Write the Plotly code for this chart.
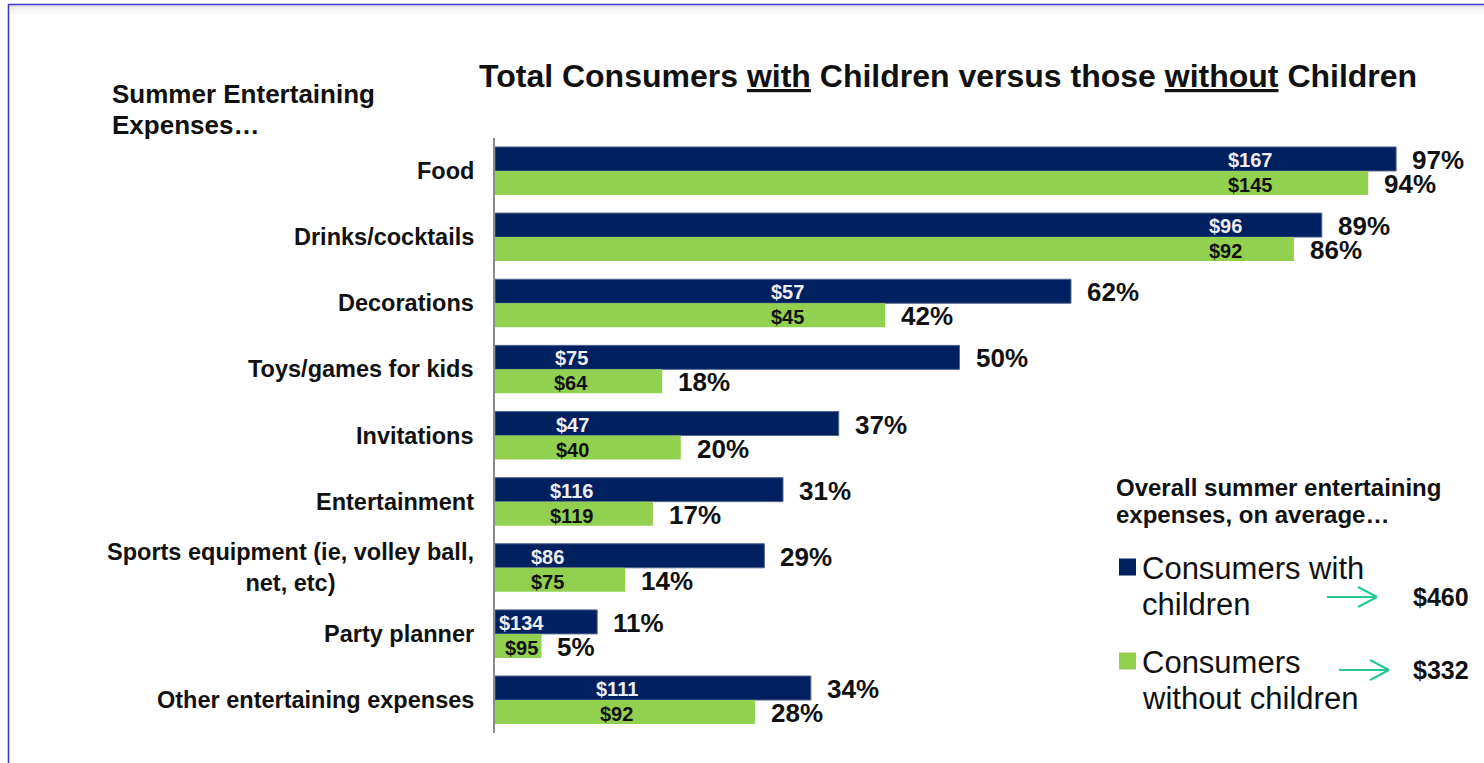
import plotly.graph_objects as go

# ---- data ----
categories = [
    "Food",
    "Drinks/cocktails",
    "Decorations",
    "Toys/games for kids",
    "Invitations",
    "Entertainment",
    "Sports equipment (ie, volley ball,<br>net, etc)",
    "Party planner",
    "Other entertaining expenses",
]
pct_with_children = [97, 89, 62, 50, 37, 31, 29, 11, 34]
pct_without_children = [94, 86, 42, 18, 20, 17, 14, 5, 28]
spend_with_children = [167, 96, 57, 75, 47, 116, 86, 134, 111]
spend_without_children = [145, 92, 45, 64, 40, 119, 75, 95, 92]

overall_labels = ["Consumers with<br>children", "Consumers<br>without children"]
overall_spend = [460, 332]

# where the dollar labels sit inside each pair of bars (x-axis units)
spend_label_x = [81.3, 78.6, 31.5, 8.2, 8.3, 8.2, 5.7, 2.9, 13.1]

# ---- styling ----
W, H = 1484, 763
NAVY = "#002060"
GREEN = "#92D050"
ARROW = "#22C993"
FRAME = "#3A3ACF"
FONT = "Liberation Sans, Arial, sans-serif"
INK = "#111111"


def px(x):
    return x / W


def py(y):
    return 1 - y / H


annotations = []


def left_block(text, x, y_first, spacing, size, bold=False):
    """Left-aligned multi-line text with a fixed pixel line spacing."""
    for i, line in enumerate(text.split("<br>")):
        annotations.append(dict(
            x=px(x), y=py(y_first + i * spacing), xref="paper", yref="paper",
            text=f"<b>{line}</b>" if bold else line, showarrow=False,
            xanchor="left", yanchor="middle",
            font=dict(family=FONT, size=size, color=INK),
        ))


fig = go.Figure()
fig.add_trace(go.Bar(
    y=categories, x=pct_with_children, orientation="h",
    marker=dict(color=NAVY, line=dict(color="#51668F", width=1)),
    name="Consumers with children", hoverinfo="skip",
))
fig.add_trace(go.Bar(
    y=categories, x=pct_without_children, orientation="h",
    marker=dict(color=GREEN, line=dict(width=0)),
    name="Consumers without children", hoverinfo="skip",
))

# category labels (centred lines, right edge near the axis)
for cat in categories:
    annotations.append(dict(
        x=px(476), xref="paper", y=cat, yref="y",
        text=f"<b>{cat}</b>", showarrow=False, xanchor="right",
        align="center", font=dict(family=FONT, size=23.5, color=INK),
    ))

# percentage labels beyond the bar ends
for cat, a, b in zip(categories, pct_with_children, pct_without_children):
    annotations.append(dict(
        x=a, y=cat, xref="x", yref="y", text=f"<b>{a}%</b>",
        showarrow=False, xanchor="left", xshift=14, yshift=11,
        font=dict(family=FONT, size=26, color=INK),
    ))
    annotations.append(dict(
        x=b, y=cat, xref="x", yref="y", text=f"<b>{b}%</b>",
        showarrow=False, xanchor="left", xshift=14, yshift=-13,
        font=dict(family=FONT, size=26, color=INK),
    ))

# average spend labels inside the bars
for cat, sx, a, b in zip(categories, spend_label_x, spend_with_children, spend_without_children):
    annotations.append(dict(
        x=sx, y=cat, xref="x", yref="y", text=f"<b>${a}</b>",
        showarrow=False, xanchor="center", yshift=11,
        font=dict(family=FONT, size=20, color="#EDEDF3"),
    ))
    annotations.append(dict(
        x=sx, y=cat, xref="x", yref="y", text=f"<b>${b}</b>",
        showarrow=False, xanchor="center", yshift=-14,
        font=dict(family=FONT, size=20, color=INK),
    ))

# headings
annotations.append(dict(
    x=px(948), y=py(76), xref="paper", yref="paper",
    text="<b>Total Consumers <u>with</u> Children versus those <u>without</u> Children</b>",
    showarrow=False, xanchor="center", yanchor="middle",
    font=dict(family=FONT, size=32, color=INK),
))
left_block("Summer Entertaining<br>Expenses…", 110, 94, 31, 26, bold=True)
left_block("Overall summer entertaining<br>expenses, on average…", 1114, 487, 27, 24, bold=True)

# key with overall averages
key_rows = [(568, 597, 1327, NAVY), (662, 670, 1339, GREEN)]
shapes = []
for (text_y, arrow_y, arrow_x0, color), label, total in zip(key_rows, overall_labels, overall_spend):
    shapes.append(dict(
        type="rect", xref="paper", yref="paper",
        x0=px(1119), x1=px(1136), y0=py(text_y + 7.5), y1=py(text_y - 9.5),
        fillcolor=color, line=dict(width=0),
    ))
    left_block(label, 1140, text_y, 36, 31)
    x1 = arrow_x0 + 50
    for (ax0, ay0), (ax1, ay1) in [((arrow_x0, arrow_y), (x1, arrow_y)),
                                   ((x1 - 19, arrow_y - 10), (x1, arrow_y)),
                                   ((x1 - 19, arrow_y + 10), (x1, arrow_y))]:
        shapes.append(dict(
            type="line", xref="paper", yref="paper",
            x0=px(ax0), y0=py(ay0), x1=px(ax1), y1=py(ay1),
            line=dict(color=ARROW, width=2),
        ))
    annotations.append(dict(
        x=px(1441), y=py(arrow_y), xref="paper", yref="paper",
        text=f"<b>${total}</b>", showarrow=False, xanchor="center", yanchor="middle",
        font=dict(family=FONT, size=25, color=INK),
    ))

# slide frame with a soft shadow under the top edge
for i, c in enumerate(["#E4E4E4", "#EDEDED", "#F3F3F3", "#F8F8F8"]):
    shapes.append(dict(
        type="line", xref="paper", yref="paper",
        x0=px(9), x1=1, y0=py(6.5 + 2 * i), y1=py(6.5 + 2 * i),
        line=dict(color=c, width=2), layer="below",
    ))
shapes.append(dict(type="line", xref="paper", yref="paper",
                   x0=px(8), x1=1, y0=py(4.5), y1=py(4.5),
                   line=dict(color=FRAME, width=1.6)))
shapes.append(dict(type="line", xref="paper", yref="paper",
                   x0=px(8.5), x1=px(8.5), y0=py(4), y1=0,
                   line=dict(color=FRAME, width=1.6)))

fig.update_layout(
    width=W, height=H,
    margin=dict(l=0, r=0, t=0, b=0),
    paper_bgcolor="white", plot_bgcolor="white",
    barmode="group", bargap=0.274, bargroupgap=0,
    showlegend=False,
    xaxis=dict(
        domain=[px(495), px(1424)], range=[0, 100],
        showgrid=False, zeroline=False, showticklabels=False, showline=False,
    ),
    yaxis=dict(
        domain=[py(733.1), py(137.9)], range=[8.5, -0.5],
        type="category", showgrid=False, zeroline=False,
        showticklabels=False, showline=True, linecolor="#8C8C8C", linewidth=2,
        ticks="",
    ),
    annotations=annotations,
    shapes=shapes,
)

fig.write_html("out.html")
